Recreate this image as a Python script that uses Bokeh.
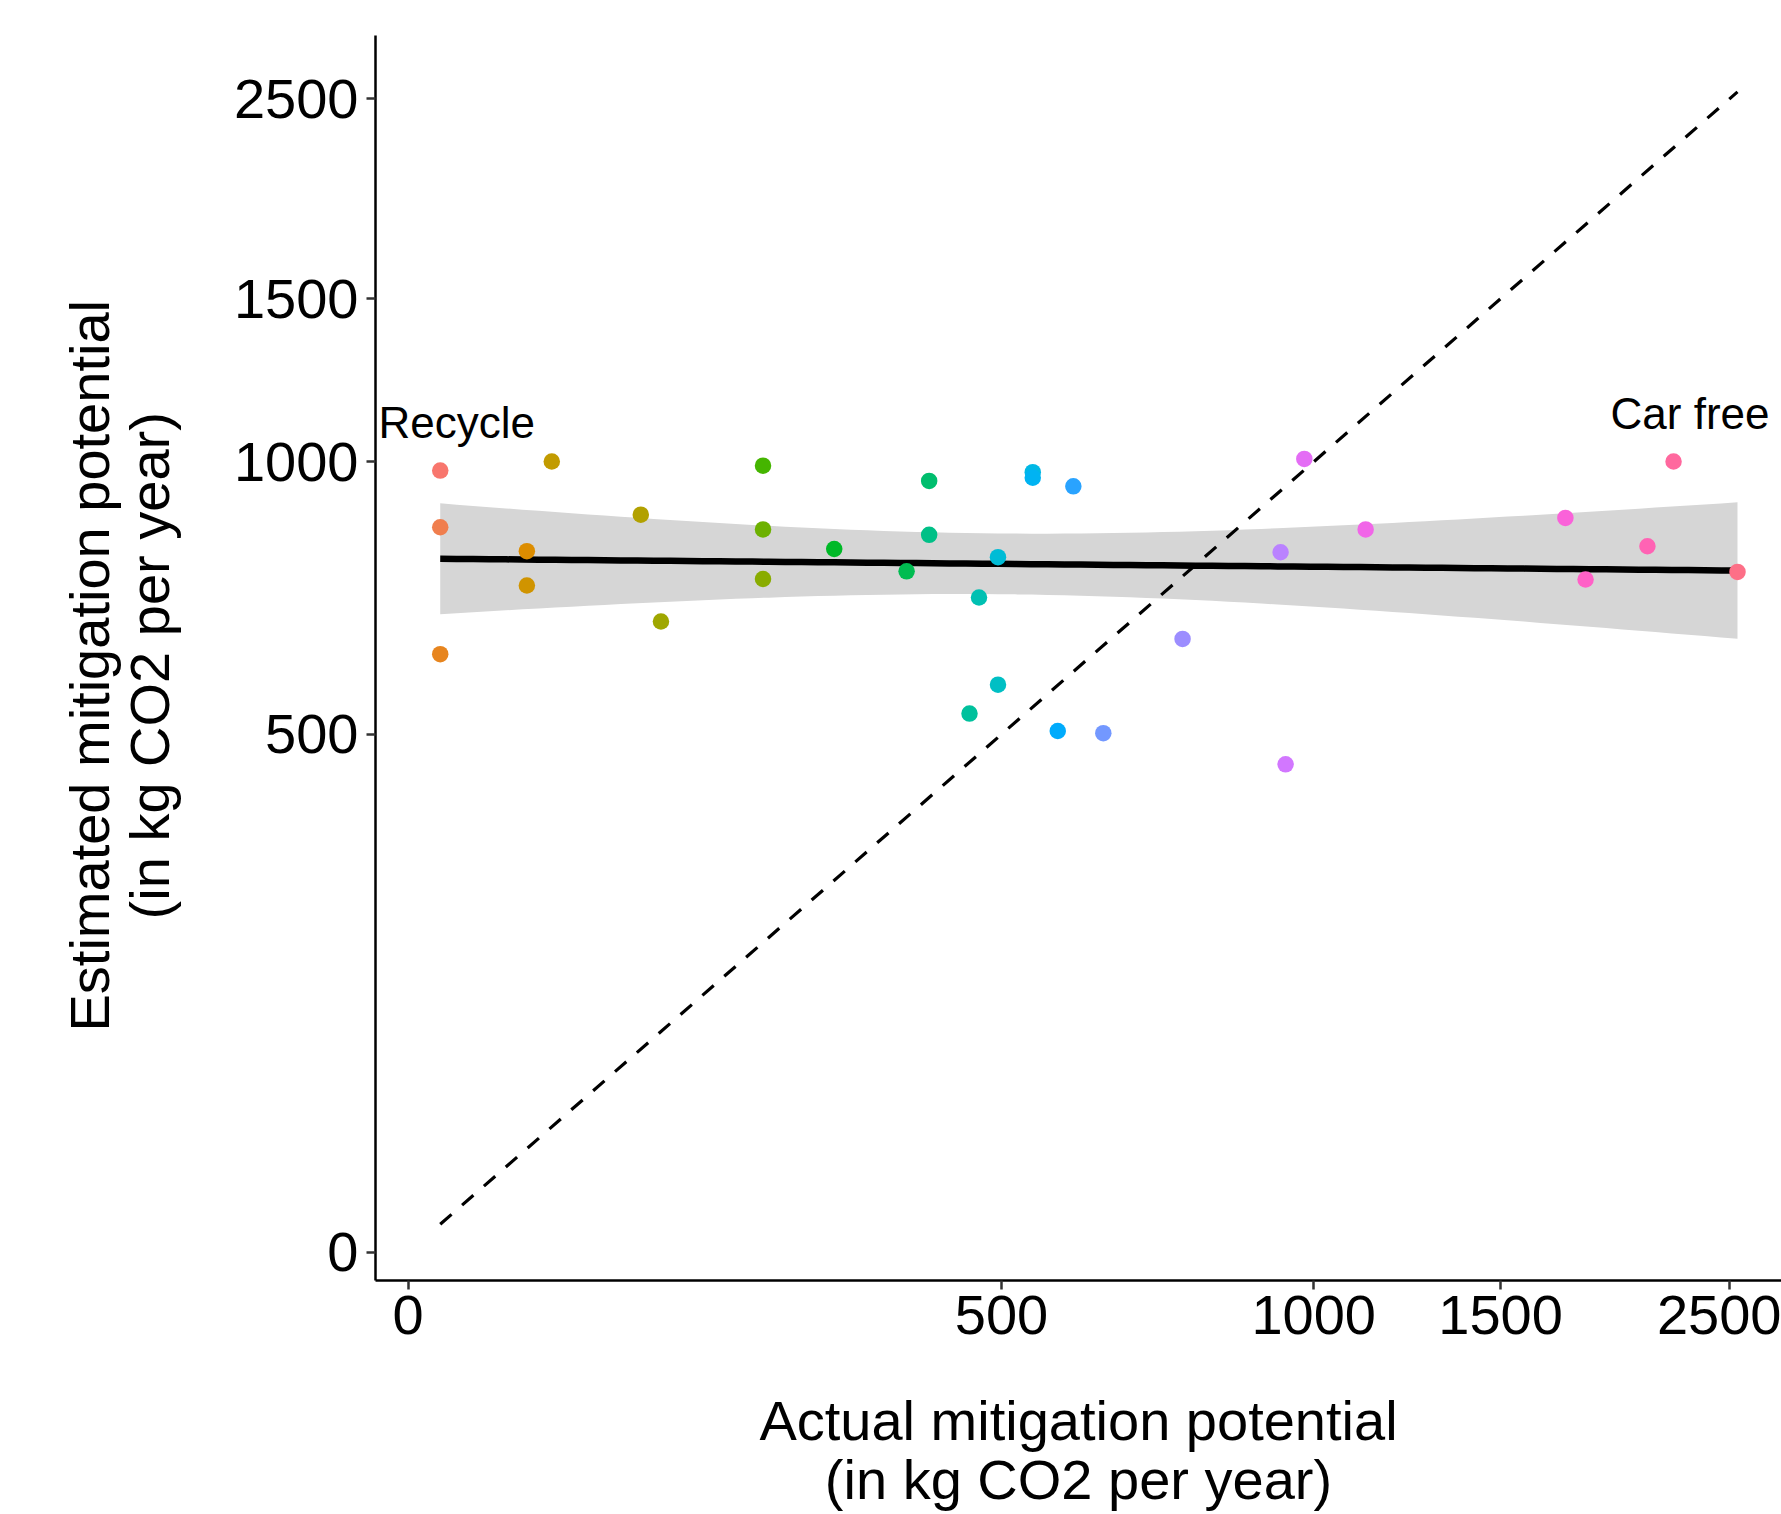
import numpy as np
from bokeh.plotting import figure
from bokeh.models import FixedTicker, ColumnDataSource, LabelSet
from bokeh.core.properties import value
from bokeh.embed import file_html
from bokeh.resources import INLINE

# ---- axis scale (non-linear): tick values and where they sit on the axis ----
tick_values = [0, 500, 1000, 1500, 2500]
tick_positions = [0.0, 22.45, 34.26, 41.33, 50.0]
tick_labels = ["0", "500", "1000", "1500", "2500"]

# ---- data (kg CO2 per year) ----
actual = [27, 27, 27, 100, 100, 121, 196, 213, 299, 299, 299, 359, 420, 439,
          439, 473, 481, 497, 497, 550, 550, 590, 615, 663, 790, 947, 955,
          985, 1139, 1783, 1871, 2141, 2255, 2534]
estimated = [984, 880, 647, 836, 773, 1001, 903, 707, 785, 876, 993, 840, 799,
             965, 866, 538, 751, 591, 825, 981, 971, 506, 955, 502, 675, 834,
             471, 1009, 876, 897, 784, 845, 1001, 798]
point_labels = ["Recycle"] + [""] * 31 + ["Car free", ""]

FONT = "Liberation Sans"


def to_scale(v):
    v = np.asarray(v, dtype=float)
    tv = np.array(tick_values, dtype=float)
    tp = np.array(tick_positions, dtype=float)
    out = np.interp(v, tv, tp)
    slope = (tp[-1] - tp[-2]) / (tv[-1] - tv[-2])
    hi = v > tv[-1]
    out[hi] = tp[-1] + (v[hi] - tv[-1]) * slope
    return out


def hue_pal(n, l=65.0, c=100.0):
    cols = []
    un, vn = 0.1978398, 0.4683363
    for i in range(n):
        h = np.deg2rad((15 + 360.0 * i / n) % 360)
        U, V = c * np.cos(h), c * np.sin(h)
        Y = 100.0 * ((l + 16) / 116) ** 3
        u = U / (13 * l) + un
        vv = V / (13 * l) + vn
        X = 9.0 * Y * u / (4 * vv)
        Z = -X / 3 - 5 * Y + 3 * Y / vv

        def g(t):
            return 1.055 * t ** (1 / 2.4) - 0.055 if t > 0.00304 else 12.92 * t
        r = g((3.240479 * X - 1.537150 * Y - 0.498535 * Z) / 100)
        gg = g((-0.969256 * X + 1.875992 * Y + 0.041556 * Z) / 100)
        b = g((0.055648 * X - 0.204043 * Y + 1.057311 * Z) / 100)
        rgb = [int(round(255 * min(1, max(0, t)))) for t in (r, gg, b)]
        cols.append("#%02X%02X%02X" % tuple(rgb))
    return cols


xs = to_scale(actual)
ys = to_scale(estimated)
n = len(xs)
colors = hue_pal(n)

# linear fit with 95% confidence band (on the transformed scale)
b1, b0 = np.polyfit(xs, ys, 1)
grid = np.linspace(xs.min(), xs.max(), 80)
fit = b0 + b1 * grid
resid = ys - (b0 + b1 * xs)
s = np.sqrt(np.sum(resid ** 2) / (n - 2))
sxx = np.sum((xs - xs.mean()) ** 2)
se = s * np.sqrt(1.0 / n + (grid - xs.mean()) ** 2 / sxx)
tcrit = 2.0369

p = figure(width=1781, height=1514, x_range=(-1.237, 51.96), y_range=(-1.227, 52.74),
           output_backend="svg", toolbar_location=None,
           min_border_left=375, min_border_right=0, min_border_top=35, min_border_bottom=234)
p.outline_line_color = None
p.xgrid.visible = False
p.ygrid.visible = False
p.background_fill_color = "white"
p.border_fill_color = "white"

p.varea(x=grid, y1=fit - tcrit * se, y2=fit + tcrit * se, fill_color="#D6D6D6")
p.line(x=grid, y=fit, line_color="black", line_width=6.5)

src = ColumnDataSource(dict(x=xs, y=ys, c=colors, lab=point_labels))
p.scatter(x="x", y="y", source=src, size=16.5, fill_color="c", line_color=None)

ident = to_scale([min(actual), max(actual)])
p.line(x=ident, y=ident, line_color="black", line_width=3.2, line_dash="15 14")

labels = LabelSet(x="x", y="y", text="lab", source=src, x_offset=16.5, y_offset=33,
                  text_align="center", text_baseline="alphabetic",
                  text_font=value(FONT), text_font_size="44px", text_color="black")
p.add_layout(labels)

for ax in (p.xaxis[0], p.yaxis[0]):
    ax.ticker = FixedTicker(ticks=tick_positions)
    ax.major_label_overrides = {tp: lab for tp, lab in zip(tick_positions, tick_labels)}
    ax.minor_tick_line_color = None
    ax.major_tick_in = 0
    ax.major_tick_out = 9
    ax.major_tick_line_width = 2.5
    ax.major_tick_line_color = "#333333"
    ax.axis_line_width = 2.5
    ax.axis_line_color = "black"
    ax.major_label_text_font = FONT
    ax.major_label_text_font_size = "56px"
    ax.major_label_text_color = "black"
    ax.axis_label_text_font = FONT
    ax.axis_label_text_font_size = "56px"
    ax.axis_label_text_font_style = "normal"
    ax.axis_label_text_color = "black"
    ax.axis_label_text_line_height = 0.95
p.yaxis[0].major_label_standoff = 8
p.xaxis[0].major_label_standoff = 6

p.xaxis[0].axis_label = "Actual mitigation potential\n(in kg CO2 per year)"
p.yaxis[0].axis_label = "Estimated mitigation potential \n(in kg CO2 per year) "
p.xaxis[0].axis_label_standoff = 52
p.yaxis[0].axis_label_standoff = 50

open("out.html", "w").write(file_html(p, INLINE))
